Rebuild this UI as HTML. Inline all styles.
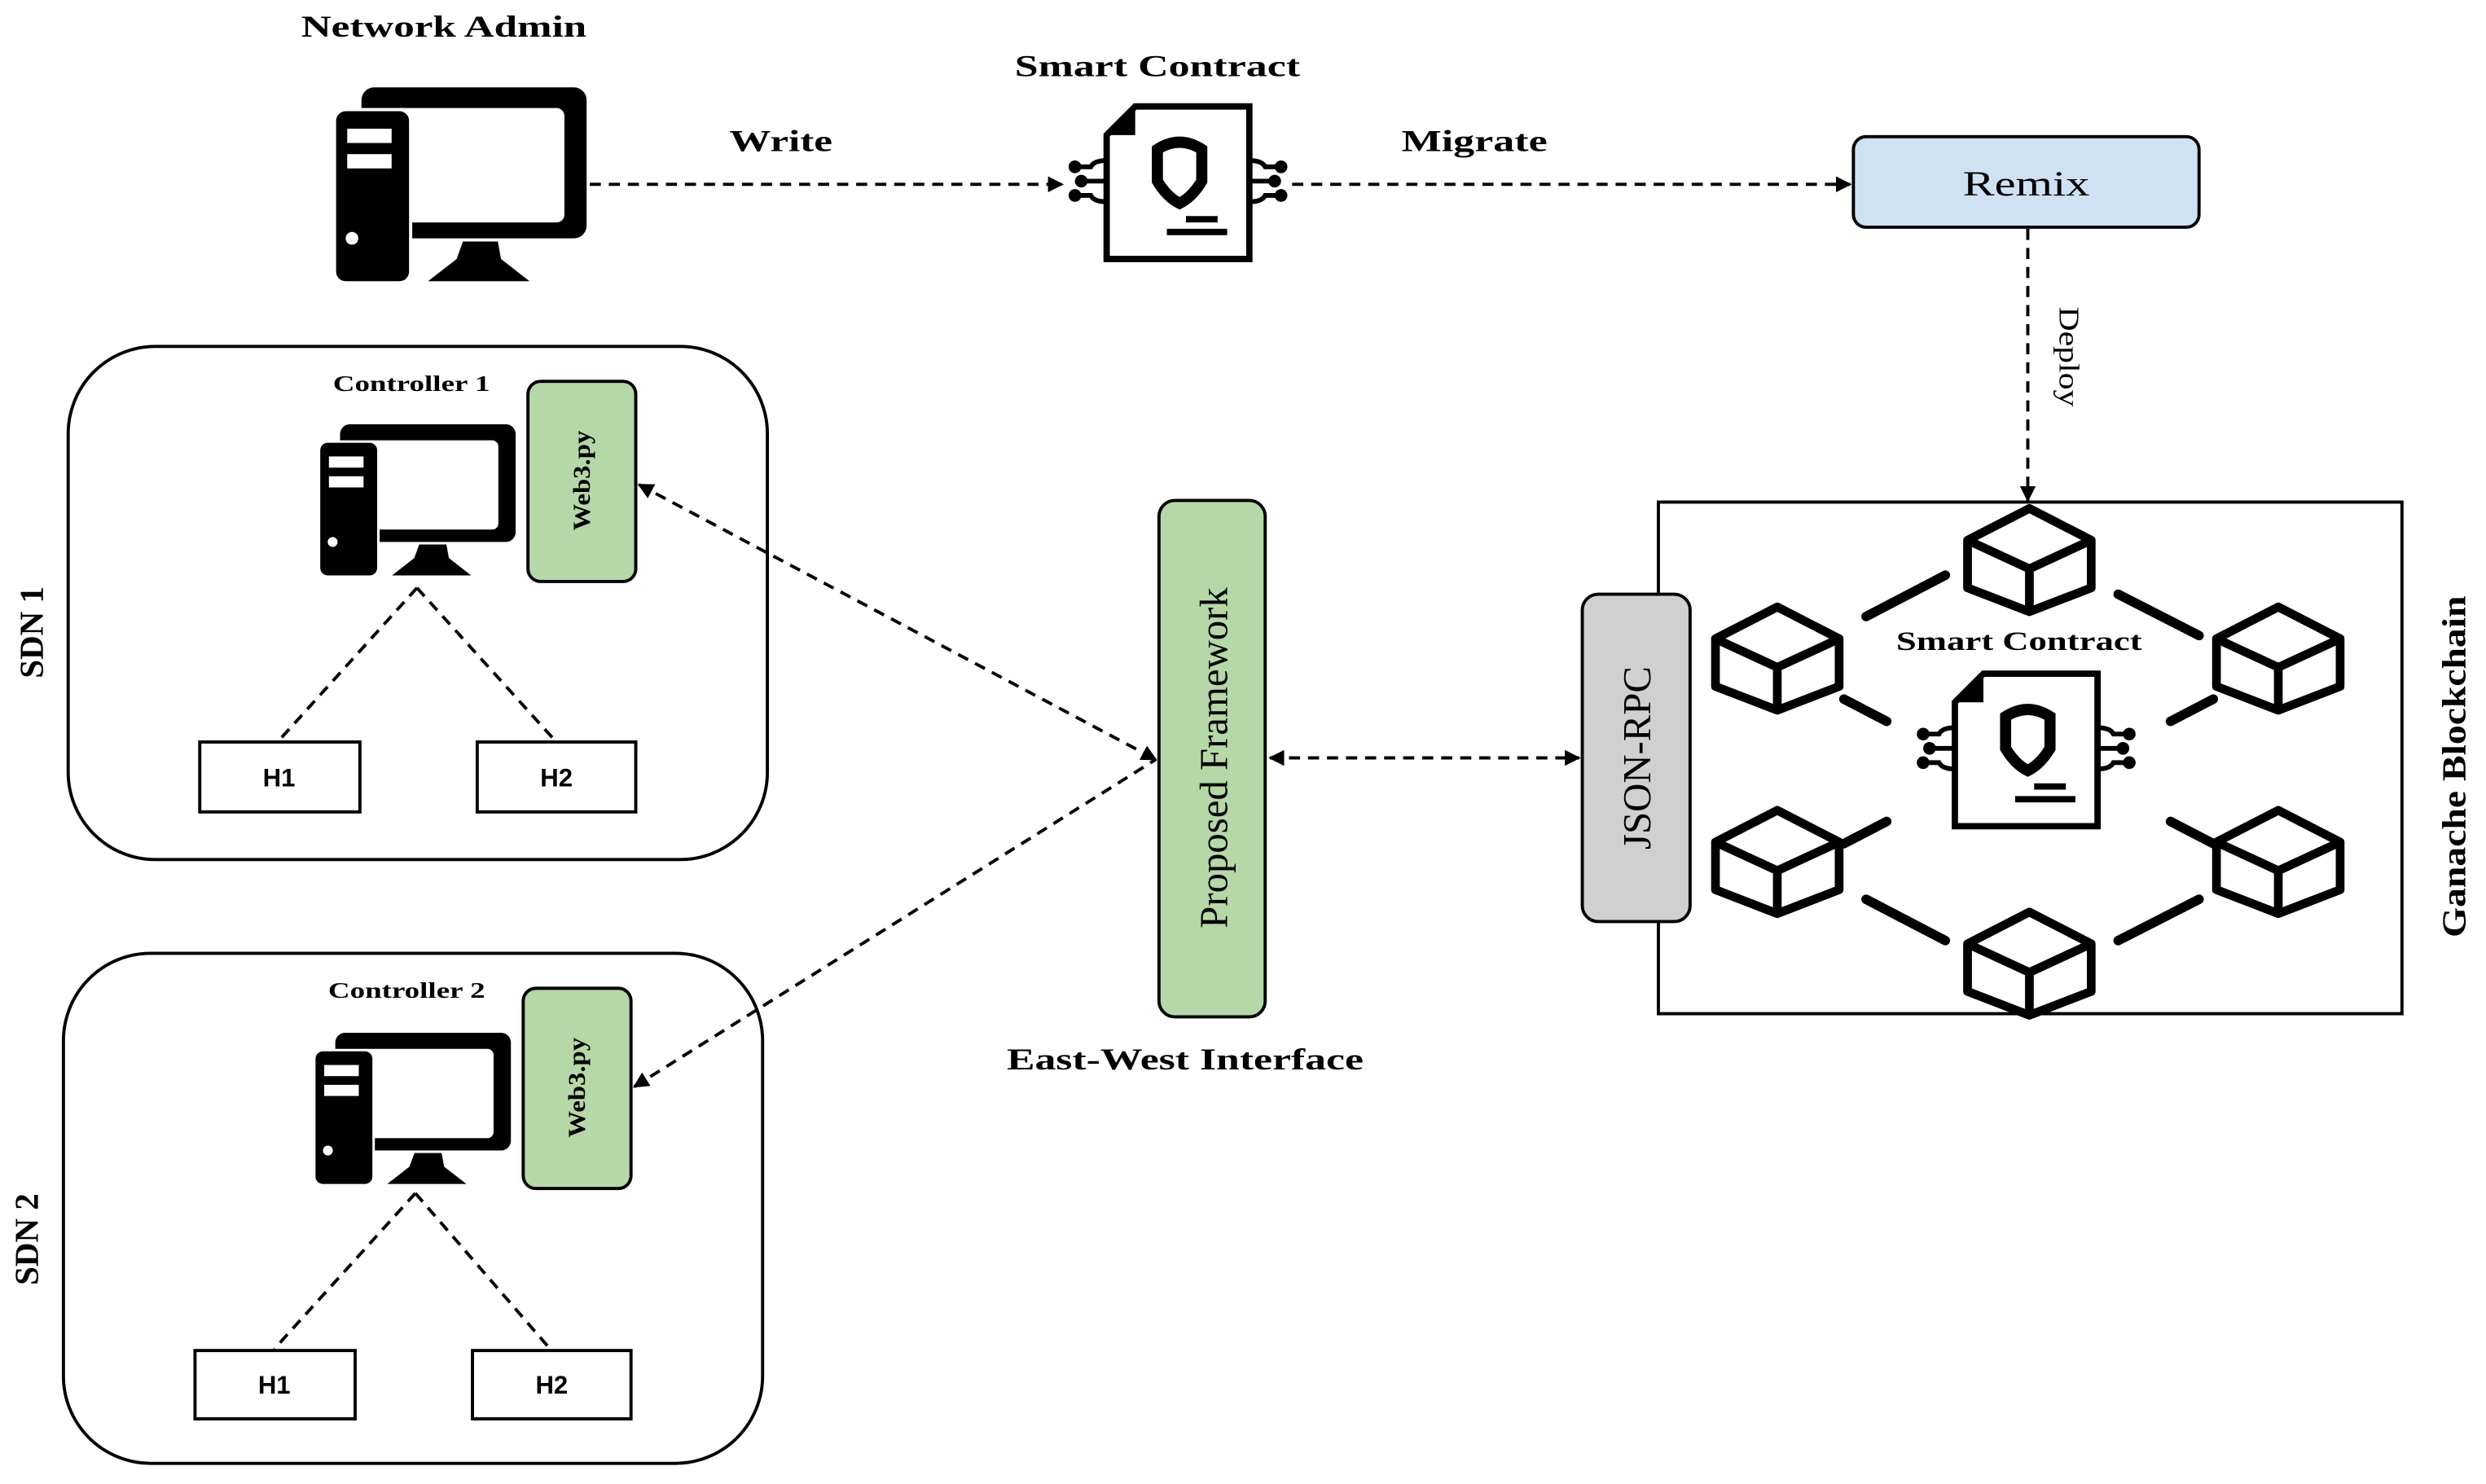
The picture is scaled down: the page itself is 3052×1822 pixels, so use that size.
<!DOCTYPE html>
<html><head><meta charset="utf-8"><style>
html,body{margin:0;padding:0;background:#fff}
svg{display:block}
text{font-family:"Liberation Serif",serif;fill:#000}
.b{font-weight:bold}
.s{font-family:"Liberation Sans",sans-serif;font-weight:bold}
</style></head><body>
<svg width="3052" height="1822" viewBox="0 0 1568 934" preserveAspectRatio="none" xmlns="http://www.w3.org/2000/svg">
<defs>
<marker id="ar" markerWidth="10" markerHeight="10" refX="9" refY="5" orient="auto-start-reverse" markerUnits="userSpaceOnUse">
<path d="M0,0 L10,5 L0,10 Z" fill="#000"/></marker>
<g id="pc">
<rect x="16" y="0" width="142" height="95" rx="8" fill="#000"/>
<rect x="36" y="13" width="108" height="72" rx="5" fill="#fff"/>
<rect x="-2" y="13" width="50" height="111" rx="7" fill="#fff"/>
<rect x="0" y="15" width="46" height="107" rx="6" fill="#000"/>
<rect x="7" y="26" width="28" height="9" fill="#fff"/>
<rect x="7" y="42" width="28" height="9" fill="#fff"/>
<circle cx="10" cy="95" r="4" fill="#fff"/>
<polygon points="58,122 122,122 104,108 102,97 80,97 76,108" fill="#000"/>
</g>
<g id="sc">
<path d="M26,20 L44,2 L116,2 L116,98 L26,98 Z" fill="#fff" stroke="#000" stroke-width="4"/>
<path d="M26,20 L44,2 L44,20 Z" fill="#000"/>
<path d="M58,29 Q72,20 86,29 L86,49 Q80,59 72,63 Q64,59 58,49 Z" fill="none" stroke="#000" stroke-width="7"/>
<path d="M76,73 L96,73 M64,81 L102,81" stroke="#000" stroke-width="4"/>
<g stroke="#000" stroke-width="3" fill="none">
<path d="M26,36 Q18,36 16,40 L6,40 M26,49 L10,49 M26,62 Q18,62 16,58 L6,58"/>
<path d="M116,36 Q124,36 126,40 L136,40 M116,49 L132,49 M116,62 Q124,62 126,58 L136,58"/>
</g>
<g fill="#000"><circle cx="6" cy="40" r="4"/><circle cx="10" cy="49" r="4"/><circle cx="6" cy="58" r="4"/>
<circle cx="136" cy="40" r="4"/><circle cx="132" cy="49" r="4"/><circle cx="136" cy="58" r="4"/></g>
</g>
<g id="cube" fill="none" stroke="#000" stroke-width="5.5" stroke-linejoin="round">
<path d="M0,-31 L39,-11 L39,19 L0,34 L-39,19 L-39,-11 Z"/>
<path d="M-39,-11 L0,7 L39,-11 M0,7 L0,34"/>
</g>
</defs>

<!-- top row -->
<text x="190" y="23" class="b" font-size="19" textLength="180" lengthAdjust="spacingAndGlyphs">Network Admin</text>
<use href="#pc" x="212" y="55"/>
<text x="640" y="48" class="b" font-size="19" textLength="180" lengthAdjust="spacingAndGlyphs">Smart Contract</text>
<use href="#sc" x="672" y="65"/>
<text x="460" y="95" class="b" font-size="19" textLength="65" lengthAdjust="spacingAndGlyphs">Write</text>
<text x="884" y="95" class="b" font-size="19" textLength="92" lengthAdjust="spacingAndGlyphs">Migrate</text>
<g stroke="#000" stroke-width="2" stroke-dasharray="7 5" fill="none">
<path d="M372,116 L670,116" marker-end="url(#ar)"/>
<path d="M815,116 L1167,116" marker-end="url(#ar)"/>
<path d="M1279,144 L1279,315" marker-end="url(#ar)"/>
<path d="M801,477 L996,477" marker-start="url(#ar)" marker-end="url(#ar)"/>
<path d="M403,305 L729,478" marker-start="url(#ar)" marker-end="url(#ar)"/>
<path d="M400,684 L729,478" marker-start="url(#ar)"/>
<path d="M263,370 L176,466 M263,370 L350,466"/>
<path d="M262,751 L173,849 M262,751 L347,849"/>
</g>
<rect x="1169" y="86" width="218" height="57" rx="8" fill="#cfe2f3" stroke="#000" stroke-width="2"/>
<text x="1238" y="123" font-size="22" textLength="80" lengthAdjust="spacingAndGlyphs">Remix</text>
<text transform="translate(1299,193) rotate(90)" font-size="18" textLength="63" lengthAdjust="spacingAndGlyphs">Deploy</text>

<!-- blockchain -->
<rect x="1046" y="316" width="469" height="322" fill="none" stroke="#000" stroke-width="2"/>
<text transform="translate(1555,590) rotate(-90)" class="b" font-size="21" textLength="215" lengthAdjust="spacingAndGlyphs">Ganache Blockchain</text>
<rect x="998" y="374" width="68" height="206" rx="10" fill="#d0d0d0" stroke="#000" stroke-width="2"/>
<text transform="translate(1041,477) rotate(-90)" text-anchor="middle" font-size="25">JSON-RPC</text>
<use href="#cube" x="1280" y="351"/>
<use href="#cube" x="1121" y="413"/>
<use href="#cube" x="1437" y="413"/>
<use href="#cube" x="1121" y="541"/>
<use href="#cube" x="1437" y="541"/>
<use href="#cube" x="1280" y="605"/>
<g stroke="#000" stroke-width="6" stroke-linecap="round">
<path d="M1177,388 L1227,362 M1336,374 L1387,400"/>
<path d="M1163,440 L1190,454 M1396,440 L1369,454"/>
<path d="M1163,531 L1190,517 M1396,531 L1369,517"/>
<path d="M1177,566 L1227,592 M1336,592 L1387,566"/>
</g>
<text x="1196" y="409" class="b" font-size="17" textLength="155" lengthAdjust="spacingAndGlyphs">Smart Contract</text>
<use href="#sc" x="1207" y="422"/>

<!-- proposed framework -->
<rect x="731" y="315" width="67" height="325" rx="10" fill="#b6d7a8" stroke="#000" stroke-width="2"/>
<text transform="translate(774,477) rotate(-90)" text-anchor="middle" font-size="25">Proposed Framework</text>
<text x="635" y="673" class="b" font-size="19" textLength="225" lengthAdjust="spacingAndGlyphs">East-West Interface</text>

<!-- SDN 1 -->
<rect x="43" y="218" width="441" height="323" rx="55" fill="none" stroke="#000" stroke-width="2"/>
<text transform="translate(27,398) rotate(-90)" text-anchor="middle" class="b" font-size="21">SDN 1</text>
<text x="210" y="246" class="b" font-size="14" textLength="99" lengthAdjust="spacingAndGlyphs">Controller 1</text>
<rect x="333" y="240" width="68" height="126" rx="8" fill="#b6d7a8" stroke="#000" stroke-width="2"/>
<text transform="translate(372,334) rotate(-90)" class="b" font-size="15" textLength="63" lengthAdjust="spacingAndGlyphs">Web3.py</text>
<g transform="translate(202,267) scale(0.78)"><use href="#pc"/></g>
<rect x="126" y="467" width="101" height="44" fill="#fff" stroke="#000" stroke-width="2"/>
<rect x="301" y="467" width="100" height="44" fill="#fff" stroke="#000" stroke-width="2"/>
<text x="176" y="495" text-anchor="middle" class="s" font-size="16">H1</text>
<text x="351" y="495" text-anchor="middle" class="s" font-size="16">H2</text>

<!-- SDN 2 -->
<rect x="40" y="600" width="441" height="321" rx="55" fill="none" stroke="#000" stroke-width="2"/>
<text transform="translate(24,780) rotate(-90)" text-anchor="middle" class="b" font-size="21">SDN 2</text>
<text x="207" y="628" class="b" font-size="14" textLength="99" lengthAdjust="spacingAndGlyphs">Controller 2</text>
<rect x="330" y="622" width="68" height="126" rx="8" fill="#b6d7a8" stroke="#000" stroke-width="2"/>
<text transform="translate(369,716) rotate(-90)" class="b" font-size="15" textLength="63" lengthAdjust="spacingAndGlyphs">Web3.py</text>
<g transform="translate(199,650) scale(0.78)"><use href="#pc"/></g>
<rect x="123" y="850" width="101" height="43" fill="#fff" stroke="#000" stroke-width="2"/>
<rect x="298" y="850" width="100" height="43" fill="#fff" stroke="#000" stroke-width="2"/>
<text x="173" y="877" text-anchor="middle" class="s" font-size="16">H1</text>
<text x="348" y="877" text-anchor="middle" class="s" font-size="16">H2</text>
</svg>
</body></html>
